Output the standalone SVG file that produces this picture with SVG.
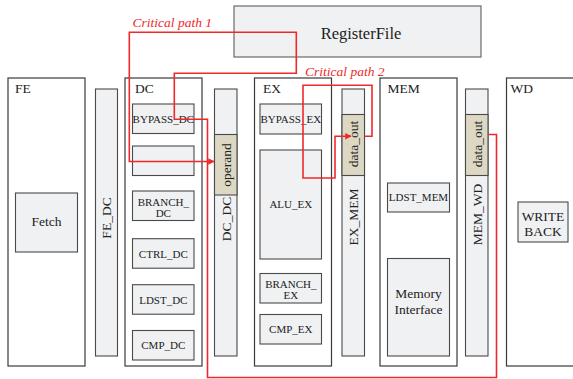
<svg xmlns="http://www.w3.org/2000/svg" width="573" height="379" viewBox="0 0 573 379" font-family="'Liberation Serif', 'Times New Roman', Times, serif">
  <style>
    .stage { fill: #ffffff; stroke: #3a3a3a; stroke-width: 1.2; }
    .unit { fill: #f0f1f3; stroke: #4a4a4a; stroke-width: 1.1; }
    .reg { fill: #dcd8c3; stroke: #4a4a4a; stroke-width: 1.1; }
    text { font-family: 'Liberation Serif', 'Times New Roman', Times, serif; fill: #222; }
    .s11 { font-size: 11px; }
    .s13 { font-size: 13.5px; }
    .mid { text-anchor: middle; }
    .crit { fill: none; stroke: #f0282a; stroke-width: 1.6; stroke-linejoin: miter; }
    text.critlbl { font-style: italic; font-size: 13.5px; fill: #f0282a; }
  </style>
  <defs>
    <marker id="arrow" viewBox="0 0 10 10" refX="9" refY="5" markerWidth="4" markerHeight="4" orient="auto" markerUnits="strokeWidth">
      <path d="M0,0 L10,5 L0,10 z" fill="#f0282a"/>
    </marker>
  </defs>

  <!-- register file -->
  <g id="registerfile">
    <rect x="234" y="6" width="247" height="51" fill="#f0f1f3" stroke="#6a6a6a" stroke-width="1.2"/>
    <text class="mid" x="361" y="39" font-size="16.5px">RegisterFile</text>
  </g>

  <!-- fetch stage -->
  <g id="fe">
    <rect class="stage" x="8" y="78" width="77" height="288"/>
    <text class="s13" x="15" y="93">FE</text>
    <g id="fetch">
      <rect class="unit" x="15.5" y="193" width="62" height="59"/>
      <text class="s13 mid" x="46.5" y="226">Fetch</text>
    </g>
  </g>

  <!-- FE/DC pipeline register -->
  <g id="fe_dc">
    <rect class="unit" x="95.5" y="89" width="22" height="267"/>
    <text class="s13 mid" transform="translate(111,218) rotate(-90)">FE_DC</text>
  </g>

  <!-- decode stage -->
  <g id="dc">
    <rect class="stage" x="125" y="78" width="77" height="288"/>
    <text class="s13" x="135" y="93">DC</text>
    <g id="bypass_dc">
      <rect class="unit" x="132.5" y="104" width="61.5" height="29.5"/>
      <text class="s11 mid" x="163.3" y="122.5">BYPASS_DC</text>
    </g>
    <g id="dc_empty">
      <rect class="unit" x="132.5" y="146" width="61.5" height="29.5"/>
    </g>
    <g id="branch_dc">
      <rect class="unit" x="132.5" y="191" width="61.5" height="29.5"/>
      <text class="s11 mid" x="163.3" y="206">BRANCH_</text>
      <text class="s11 mid" x="163.3" y="216.5">DC</text>
    </g>
    <g id="ctrl_dc">
      <rect class="unit" x="132.5" y="238.7" width="61.5" height="29.5"/>
      <text class="s11 mid" x="163.3" y="257.5">CTRL_DC</text>
    </g>
    <g id="ldst_dc">
      <rect class="unit" x="132.5" y="284.7" width="61.5" height="29.5"/>
      <text class="s11 mid" x="163.3" y="303.5">LDST_DC</text>
    </g>
    <g id="cmp_dc">
      <rect class="unit" x="132.5" y="330.5" width="61.5" height="29.5"/>
      <text class="s11 mid" x="163.3" y="349.3">CMP_DC</text>
    </g>
  </g>

  <!-- DC/DC pipeline register with operand field -->
  <g id="dc_dc">
    <rect class="unit" x="214.5" y="89" width="22.5" height="267"/>
    <rect class="reg" x="214.5" y="134.5" width="22.5" height="60.5"/>
    <text class="s13 mid" transform="translate(230.5,165) rotate(-90)">operand</text>
    <text class="s13 mid" transform="translate(230.5,219) rotate(-90)">DC_DC</text>
  </g>

  <!-- execute stage -->
  <g id="ex">
    <rect class="stage" x="254.5" y="78" width="77" height="288"/>
    <text class="s13" x="263" y="93">EX</text>
    <g id="bypass_ex">
      <rect class="unit" x="260" y="104" width="61.5" height="30"/>
      <text class="s11 mid" x="290.8" y="122.5">BYPASS_EX</text>
    </g>
    <g id="alu_ex">
      <rect class="unit" x="260" y="150" width="61.5" height="109"/>
      <text class="s11 mid" x="290.8" y="207.5">ALU_EX</text>
    </g>
    <g id="branch_ex">
      <rect class="unit" x="260" y="273.5" width="61.5" height="29.5"/>
      <text class="s11 mid" x="290.8" y="287.5">BRANCH_</text>
      <text class="s11 mid" x="290.8" y="298.5">EX</text>
    </g>
    <g id="cmp_ex">
      <rect class="unit" x="260" y="314.5" width="61.5" height="29.5"/>
      <text class="s11 mid" x="290.8" y="332.5">CMP_EX</text>
    </g>
  </g>

  <!-- EX/MEM pipeline register with data_out field -->
  <g id="ex_mem">
    <rect class="unit" x="342" y="89" width="22.5" height="267"/>
    <rect class="reg" x="342" y="114.5" width="22.5" height="61"/>
    <text class="s13 mid" transform="translate(358,144) rotate(-90)">data_out</text>
    <text class="s13 mid" transform="translate(358,217) rotate(-90)">EX_MEM</text>
  </g>

  <!-- memory stage -->
  <g id="mem">
    <rect class="stage" x="380" y="78" width="77" height="288"/>
    <text class="s13" x="387.5" y="93">MEM</text>
    <g id="ldst_mem">
      <rect class="unit" x="387.5" y="183" width="62" height="29"/>
      <text class="s11 mid" x="418.5" y="200.5">LDST_MEM</text>
    </g>
    <g id="memory_interface">
      <rect class="unit" x="387.5" y="258.5" width="62" height="97.5"/>
      <text class="s13 mid" x="418.5" y="298">Memory</text>
      <text class="s13 mid" x="418.5" y="313.5">Interface</text>
    </g>
  </g>

  <!-- MEM/WD pipeline register with data_out field -->
  <g id="mem_wd">
    <rect class="unit" x="465.5" y="89" width="22.5" height="267"/>
    <rect class="reg" x="465.5" y="114.5" width="22.5" height="61"/>
    <text class="s13 mid" transform="translate(481.5,144) rotate(-90)">data_out</text>
    <text class="s13 mid" transform="translate(481.5,214.5) rotate(-90)">MEM_WD</text>
  </g>

  <!-- write stage -->
  <g id="wd">
    <rect class="stage" x="506.5" y="78" width="80" height="288"/>
    <text class="s13" x="510.5" y="93">WD</text>
    <g id="writeback">
      <rect class="unit" x="518" y="202" width="50" height="40"/>
      <text class="s13 mid" x="543" y="221">WRITE</text>
      <text class="s13 mid" x="543" y="235.5">BACK</text>
    </g>
  </g>

  <!-- critical paths -->
  <g id="connectors">
    <path class="crit" marker-end="url(#arrow)" d="M488,134.5 H496.5 V377.5 H207.5 V119.3 H174.3 V73.3 H296.3 V32.3 H129.3 V161.5 H214"/>
    <path class="crit" marker-end="url(#arrow)" d="M364.5,136.3 H372 V85.3 H303 V178 H335 V136.3 H351"/>
    <text class="critlbl" x="132.5" y="27">Critical path 1</text>
    <text class="critlbl" x="305" y="76">Critical path 2</text>
  </g>
</svg>
